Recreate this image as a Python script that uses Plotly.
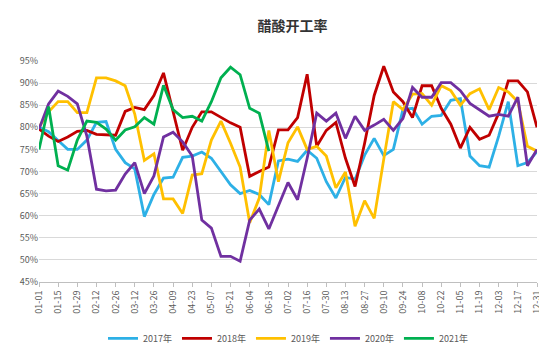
import plotly.graph_objects as go

dates = ["01-01","01-08","01-15","01-22","01-29","02-05","02-12","02-19","02-26","03-05",
         "03-12","03-19","03-26","04-02","04-09","04-16","04-23","04-30","05-07","05-14",
         "05-21","05-28","06-04","06-11","06-18","06-25","07-02","07-09","07-16","07-23",
         "07-30","08-06","08-13","08-20","08-27","09-03","09-10","09-17","09-24","10-01",
         "10-08","10-15","10-22","10-29","11-05","11-12","11-19","11-26","12-03","12-10",
         "12-17","12-24","12-31"]

tick_labels = ["01-01","01-15","01-29","02-12","02-26","03-12","03-26","04-09","04-23",
               "05-07","05-21","06-04","06-18","07-02","07-16","07-30","08-13","08-27",
               "09-10","09-24","10-08","10-22","11-05","11-19","12-03","12-17","12-31"]

y2017 = [80, 79, 77, 75, 75, 77.1, 81.1, 81.3, 75, 72, 70.6, 59.8, 64.8, 68.5, 68.7, 73.2,
         73.5, 74.4, 73, 70, 67, 65, 65.7, 64.8, 62.5, 72.4, 72.8, 72.3, 74.8, 73, 67.7, 64,
         68.7, 68.2, 73.7, 77.5, 73.6, 75, 84, 84.3, 80.7, 82.5, 82.7, 86.1, 86.5, 73.5,
         71.3, 71, 78, 85.8, 71.3, 72, 74.5]

y2018 = [79.6, 78, 76.8, 77.8, 79.1, 79.3, 78.4, 78.3, 78.2, 83.6, 84.5, 84, 87.2, 92.3,
         83.5, 74.8, 80, 83.5, 83.5, 82.3, 81, 80, 68.9, 70, 71, 79.4, 79.4, 82.2, 92, 75.7,
         79.3, 81.1, 73, 66.6, 76.4, 87.2, 93.8, 88, 85.8, 82.2, 89.4, 89.4, 84.3, 80.7,
         75.3, 80, 77.3, 78.2, 83.2, 90.5, 90.5, 88, 80]

y2019 = [80, 83.5, 85.8, 85.8, 83.3, 83.3, 91.2, 91.2, 90.5, 89.4, 83, 72.5, 74, 63.8,
         63.8, 60.5, 69.2, 69.5, 77.1, 81.4, 76.4, 71, 58.4, 64, 79.3, 67.7, 76.5, 80.1, 75,
         75.7, 73.5, 66.3, 69.9, 57.6, 63.4, 59.4, 72.8, 85.8, 84, 87.5, 87.6, 85, 89.4,
         88.3, 85, 87.6, 88.7, 84, 89, 88, 85.8, 75.7, 74.6]

y2020 = [79.6, 85.3, 88.2, 87, 85.3, 78, 66, 65.6, 65.8, 69.4, 72, 65, 69, 77.8, 78.9,
         76.7, 73.5, 59, 57.2, 50.8, 50.8, 49.7, 59, 61.5, 57, 62.2, 67.5, 63.6, 73, 83.2,
         81.4, 83.2, 77.5, 82.5, 79.3, 80.5, 81.8, 79.3, 82, 89, 86.8, 86.8, 90.1, 90.1,
         88.3, 85.4, 84, 82.5, 82.9, 82.5, 86.8, 71.3, 75]

y2021 = [75, 84.7, 71.3, 70.3, 77.1, 81.4, 81.1, 79.6, 77.1, 79.4, 80.1, 82.2, 80.7, 89.5,
         84, 82.2, 82.5, 81.4, 85.8, 91.2, 93.6, 91.9, 84.3, 83.2, 74.6]

series = [
    ("2017年", y2017, "#2DB0E6"),
    ("2018年", y2018, "#C00000"),
    ("2019年", y2019, "#FFC000"),
    ("2020年", y2020, "#7030A0"),
    ("2021年", y2021, "#00B050"),
]

font_family = "Noto Sans CJK SC, Noto Sans, sans-serif"

fig = go.Figure()
for name, vals, color in series:
    fig.add_trace(go.Scatter(
        x=dates[:len(vals)], y=vals, name=name, mode="lines",
        line=dict(color=color, width=2.8),
    ))

fig.update_layout(
    width=547, height=357,
    margin=dict(l=30, r=14, t=53, b=73),
    paper_bgcolor="white", plot_bgcolor="white",
    font=dict(family=font_family, size=9, color="#595959"),
    title=dict(text="<b>醋酸开工率</b>", x=0.52, xanchor="center", y=0.95, yanchor="middle",
               font=dict(family=font_family, size=14, color="#333333")),
    showlegend=True,
    legend=dict(orientation="h", x=0.5, xanchor="center", y=-0.255, yanchor="middle",
                font=dict(size=9, color="#595959"), itemwidth=30, tracegroupgap=0),
)

fig.update_xaxes(
    type="category", categoryorder="array", categoryarray=dates,
    range=[0, 52],
    tickmode="array", tickvals=tick_labels, ticktext=tick_labels,
    tickangle=-90, ticks="outside", ticklen=4, tickcolor="#BFBFBF",
    showline=True, linecolor="#BFBFBF", linewidth=1,
    showgrid=False, tickfont=dict(size=9, color="#595959"),
)

fig.update_yaxes(
    range=[45, 95], tickmode="linear", tick0=45, dtick=5, ticksuffix="%",
    showgrid=True, gridcolor="#D9D9D9", gridwidth=1,
    zeroline=False, showline=False,
    tickfont=dict(size=9, color="#595959"),
)

fig.write_html("out.html")
